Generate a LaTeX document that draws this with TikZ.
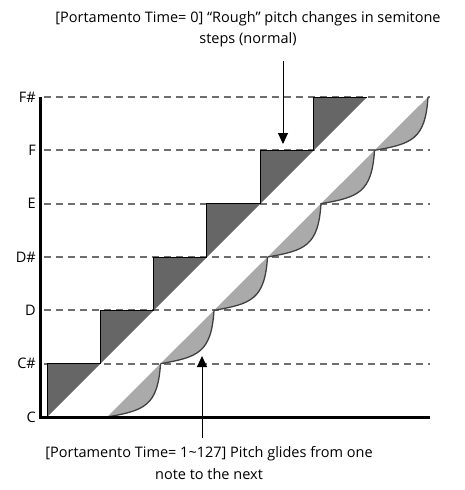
\documentclass[tikz,border=0pt]{standalone}
\usepackage{fontspec}
\setmainfont{Open Sans}
\usetikzlibrary{arrows.meta, positioning}
\definecolor{stepgray}{RGB}{102,102,102}
\definecolor{glidegray}{RGB}{170,170,170}
\definecolor{gridgray}{RGB}{110,110,110}
\tikzset{
  notelabel/.style={anchor=east, inner sep=1pt, font=\fontsize{14.5}{16}\selectfont},
  caption/.style={align=center, inner sep=0pt, font=\fontsize{14.5}{21.5}\selectfont},
  gridline/.style={draw=gridgray, line width=2pt, dash pattern=on 7pt off 5pt},
  axisline/.style={line width=3pt},
  stepedge/.style={line width=1pt},
  glideedge/.style={draw=black!75, line width=1.3pt},
  pointer/.style={line width=1pt, -{Triangle[length=11pt, width=10pt]}},
}

\begin{document}
\begin{tikzpicture}[x=1pt, y=-1pt]
  \useasboundingbox (0,0) rectangle (464,490);

  % note levels
  \foreach \k/\n in {0/C,1/C\#,2/D,3/D\#,4/E,5/F,6/F\#}{
    \pgfmathsetmacro{\ylev}{417-53.33*\k}
    \node[notelabel] (lvl\k) at (37,\ylev) {\n};
    \ifnum\k>0
      \draw[gridline] (44,\ylev) -- (430,\ylev);
    \fi
  }

  % rough steps (portamento off)
  \foreach \k in {0,...,5}{
    \pgfmathsetmacro{\xa}{47+53.33*\k}
    \pgfmathsetmacro{\xb}{47+53.33*(\k+1)}
    \pgfmathsetmacro{\ya}{417-53.33*\k}
    \pgfmathsetmacro{\yb}{417-53.33*(\k+1)}
    \fill[stepgray] (\xa,\ya) -- (\xa,\yb) -- (\xb,\yb) -- cycle;
    \draw[stepedge] (\xa,\ya) -- (\xa,\yb) -- (\xb,\yb);
  }

  % glides (portamento on)
  \foreach \k in {0,...,5}{
    \pgfmathsetmacro{\ga}{107+53.5*\k}
    \pgfmathsetmacro{\ya}{417-53.33*\k}
    \fill[glidegray] (\ga,\ya) .. controls +(37,-6.5) and +(-2.7,42.7) .. +(53.5,-53.33) -- cycle;
    \draw[glideedge] (\ga,\ya) .. controls +(37,-6.5) and +(-2.7,42.7) .. +(53.5,-53.33);
  }

  % axes
  \draw[axisline] (40,97) -- (40,417) -- (430,417);

  % captions and pointers
  \node[caption] (roughlabel) at (248,29)
    {[Portamento Time= 0] “Rough” pitch changes in semitone\\steps (normal)};
  \node[caption] (glidelabel) at (209,463)
    {[Portamento Time= 1\textasciitilde127] Pitch glides from one\\note to the next};
  \coordinate (roughfrom) at (283,61);
  \coordinate (roughtip)  at (283,144);
  \coordinate (glidefrom) at (202,438);
  \coordinate (glidetip)  at (202,356);
  \draw[pointer] (roughfrom) -- (roughtip);
  \draw[pointer] (glidefrom) -- (glidetip);
\end{tikzpicture}
\end{document}
